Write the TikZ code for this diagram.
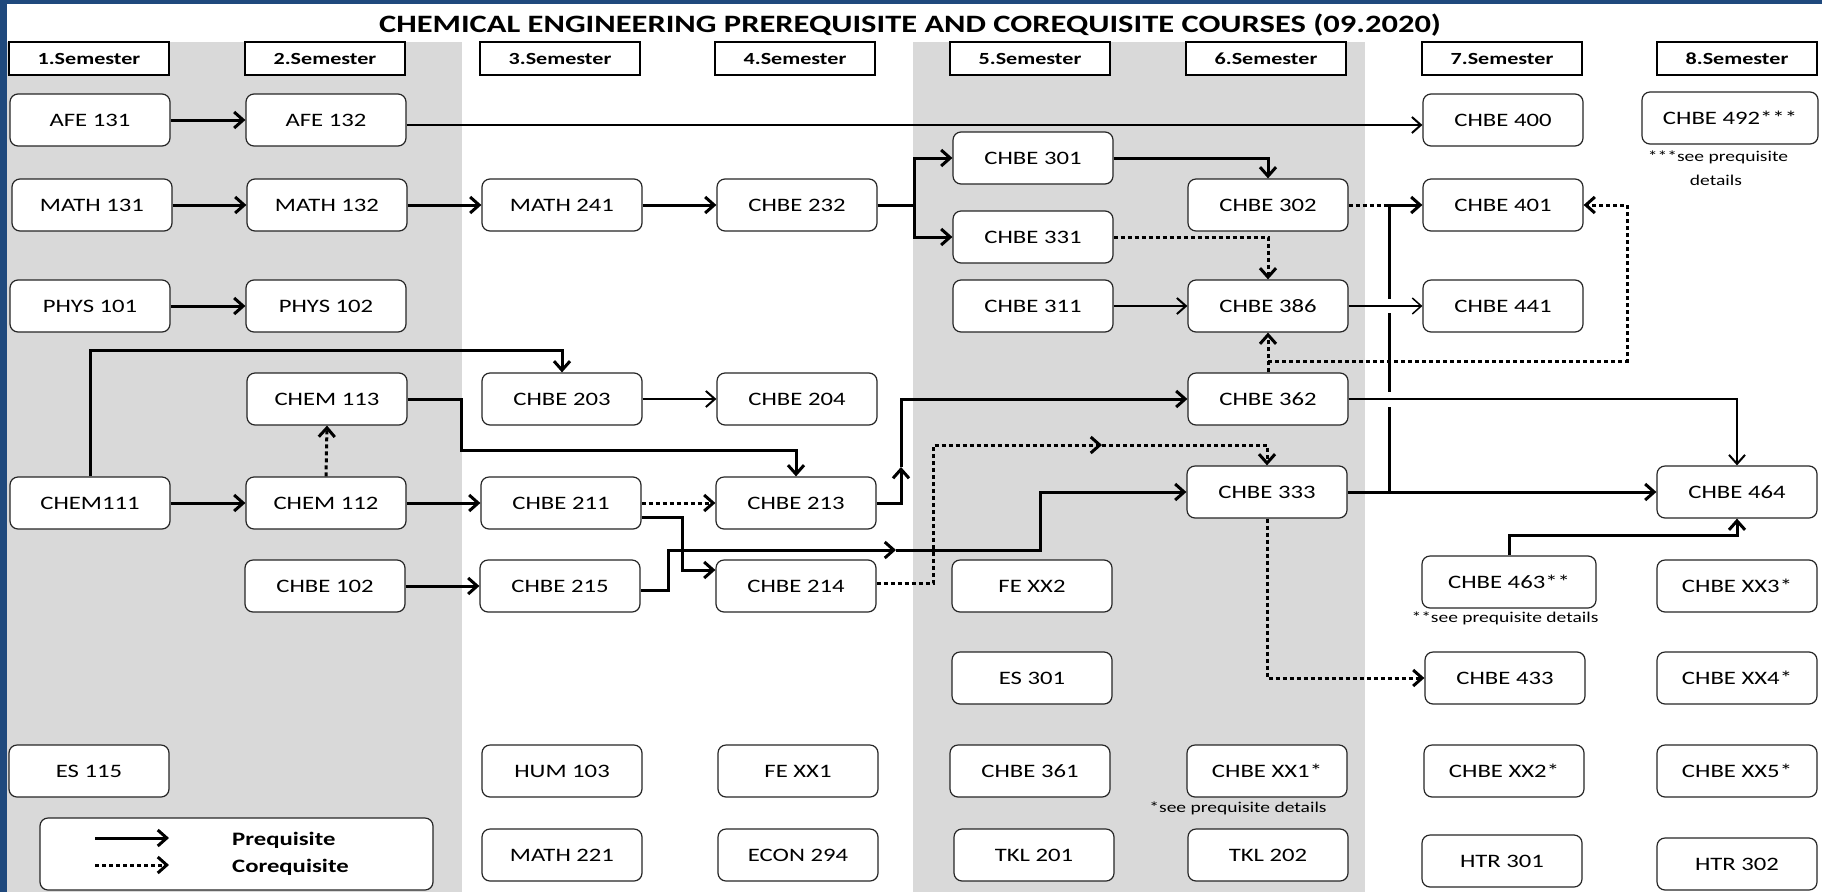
\documentclass[tikz,border=0pt]{standalone}
\usepackage{fontspec}
\setmainfont{Carlito}[FakeStretch=1.3]
\usetikzlibrary{arrows.meta}
\definecolor{frameblue}{HTML}{1F497D}
\definecolor{bandgray}{HTML}{D9D9D9}

\begin{document}
\begin{tikzpicture}[x=1pt, y=-1pt,
    course/.style={draw=black!85, line width=1.2, rounded corners=8, fill=white, minimum width=160, minimum height=52, inner sep=0, font=\fontsize{19}{21}\selectfont},
    semhead/.style={draw, line width=1.4, fill=white, minimum width=160, minimum height=33, inner sep=0, font=\bfseries\fontsize{17}{19}\selectfont},
    pre/.style={line width=3, -{Straight Barb[length=9pt,width=16pt]}},
    thinpre/.style={pre, line width=2},
    coline/.style={line width=3, dash pattern=on 4pt off 3pt},
    co/.style={coline, -{Straight Barb[length=9pt,width=16pt]}},
    note/.style={font=\fontsize{15}{17}\selectfont, inner sep=0}]
\useasboundingbox (0,0) rectangle (1822,892);
\fill[white] (0,0) rectangle (1822,892);
\fill[frameblue] (0,0) rectangle (7,892); % frame left
\fill[frameblue] (0,0) rectangle (1822,4); % frame top
\fill[bandgray] (7,42) rectangle (462,892); % semesters 1-2
\fill[bandgray] (913,42) rectangle (1365,892); % semesters 5-6

\node[font=\bfseries\fontsize{25}{27}\selectfont] (title) at (910,25) {CHEMICAL ENGINEERING PREREQUISITE AND COREQUISITE COURSES (09.2020)};

\node[semhead] (sem1) at (89,58.5) {1.Semester};
\node[semhead] (sem2) at (325,58.5) {2.Semester};
\node[semhead] (sem3) at (560,58.5) {3.Semester};
\node[semhead] (sem4) at (795,58.5) {4.Semester};
\node[semhead] (sem5) at (1030,58.5) {5.Semester};
\node[semhead] (sem6) at (1266,58.5) {6.Semester};
\node[semhead] (sem7) at (1502,58.5) {7.Semester};
\node[semhead] (sem8) at (1737,58.5) {8.Semester};

\node[course] (afe131) at (90,120) {AFE 131};
\node[course] (afe132) at (326,120) {AFE 132};
\node[course] (chbe400) at (1503,120) {CHBE 400};
\node[course, minimum width=176] (chbe492) at (1730,118) {CHBE 492***};
\node[note] (note492a) at (1718,157) {***see prequisite};
\node[note] (note492b) at (1716,180) {details};

\node[course] (math131) at (92,205) {MATH 131};
\node[course] (math132) at (327,205) {MATH 132};
\node[course] (math241) at (562,205) {MATH 241};
\node[course] (chbe232) at (797,205) {CHBE 232};
\node[course] (chbe301) at (1033,158) {CHBE 301};
\node[course] (chbe331) at (1033,237) {CHBE 331};
\node[course] (chbe302) at (1268,205) {CHBE 302};
\node[course] (chbe401) at (1503,205) {CHBE 401};

\node[course] (phys101) at (90,306) {PHYS 101};
\node[course] (phys102) at (326,306) {PHYS 102};
\node[course] (chbe311) at (1033,306) {CHBE 311};
\node[course] (chbe386) at (1268,306) {CHBE 386};
\node[course] (chbe441) at (1503,306) {CHBE 441};

\node[course] (chem113) at (327,399) {CHEM 113};
\node[course] (chbe203) at (562,399) {CHBE 203};
\node[course] (chbe204) at (797,399) {CHBE 204};
\node[course] (chbe362) at (1268,399) {CHBE 362};

\node[course] (chem111) at (90,503) {CHEM111};
\node[course] (chem112) at (326,503) {CHEM 112};
\node[course] (chbe211) at (561,503) {CHBE 211};
\node[course] (chbe213) at (796,503) {CHBE 213};
\node[course] (chbe333) at (1267,492) {CHBE 333};
\node[course] (chbe464) at (1737,492) {CHBE 464};

\node[course] (chbe102) at (325,586) {CHBE 102};
\node[course] (chbe215) at (560,586) {CHBE 215};
\node[course] (chbe214) at (796,586) {CHBE 214};
\node[course] (fexx2) at (1032,586) {FE XX2};
\node[course, minimum width=174] (chbe463) at (1509,582) {CHBE 463**};
\node[note] (note463) at (1505,618) {**see prequisite details};
\node[course] (chbexx3) at (1737,586) {CHBE XX3*};

\node[course] (es301) at (1032,678) {ES 301};
\node[course] (chbe433) at (1505,678) {CHBE 433};
\node[course] (chbexx4) at (1737,678) {CHBE XX4*};

\node[course] (es115) at (89,771) {ES 115};
\node[course] (hum103) at (562,771) {HUM 103};
\node[course] (fexx1) at (798,771) {FE XX1};
\node[course] (chbe361) at (1030,771) {CHBE 361};
\node[course] (chbexx1) at (1267,771) {CHBE XX1*};
\node[note] (notexx1) at (1238,808) {*see prequisite details};
\node[course] (chbexx2) at (1504,771) {CHBE XX2*};
\node[course] (chbexx5) at (1737,771) {CHBE XX5*};

\node[course] (math221) at (562,855) {MATH 221};
\node[course] (econ294) at (798,855) {ECON 294};
\node[course] (tkl201) at (1034,855) {TKL 201};
\node[course] (tkl202) at (1268,855) {TKL 202};
\node[course] (htr301) at (1502,861) {HTR 301};
\node[course] (htr302) at (1737,864) {HTR 302};

% legend
\node[course, minimum width=393, minimum height=72] (legend) at (236.5,854) {};
\coordinate (lgpa) at (95,838);
\coordinate (lgpb) at (169,838);
\coordinate (lgca) at (95,865);
\coordinate (lgcb) at (169,865);
\draw[pre] (lgpa) -- (lgpb);
\draw[co] (lgca) -- (lgcb);
\node[anchor=west, inner sep=0, font=\bfseries\fontsize{19}{21}\selectfont] (lgptext) at (232,840) {Prequisite};
\node[anchor=west, inner sep=0, font=\bfseries\fontsize{19}{21}\selectfont] (lgctext) at (232,867) {Corequisite};

% prerequisites
\draw[pre] (afe131) -- (afe132);
\draw[thinpre] ([yshift=-5]afe132.east) -- ([yshift=-5]chbe400.west);
\draw[pre] (math131) -- (math132);
\draw[pre] (math132) -- (math241);
\draw[pre] (math241) -- (chbe232);
\draw[pre] (chbe232.east) -- ++(37,0) |- (chbe301.west);
\draw[pre] (chbe232.east) -- ++(37,0) |- (chbe331.west);
\draw[pre] (chbe301.east) -| (chbe302.north);
\draw[pre] (phys101) -- (phys102);
\draw[thinpre] (chbe311) -- (chbe386);
\draw[pre] (chem111.north) -- ++(0,-126) -| (chbe203.north);
\draw[pre] (chem111) -- (chem112);
\draw[pre] (chem112) -- (chbe211);
\draw[pre] (chem113.east) -- ++(54,0) -- ++(0,51) -| (chbe213.north);
\draw[thinpre] (chbe203) -- (chbe204);
\draw[pre] ([yshift=-14]chbe211.east) -- ++(41,0) |- ([yshift=16]chbe214.west);
\draw[pre] (chbe102) -- (chbe215);

\coordinate (mid215) at (896,550);
\coordinate (bend215) at (1040,550);
\draw[pre] ([yshift=-4]chbe215.east) -- ++(28,0) |- (mid215);
\draw[pre] (mid215) -- (bend215) |- (chbe333.west);

\coordinate (mid213) at (901,467);
\draw[pre] (chbe213.east) -| (mid213);
\draw[pre] (mid213) |- (chbe362.west);

\draw[thinpre] (chbe362.east) -| (chbe464.north);
\draw[pre] (chbe333) -- (chbe464);
\draw[pre] (chbe463.north) -- ++(0,-20) -| (chbe464.south);

\coordinate (tap333) at (1389,492);
\draw[pre] (tap333) |- (chbe401.west);
\fill[white] (1384,299) rectangle (1394,313);
\fill[white] (1384,392) rectangle (1394,407);
\draw[line width=1.5, -{Straight Barb[length=9pt,width=16pt]}] (chbe386) -- (chbe441);
\draw[thinpre, -] (chbe362.east) -- ++(60,0);

% corequisites
\draw[co] (chem112.north) -- (chem113.south);
\draw[co] (chbe211) -- (chbe213);
\draw[co] (chbe331.east) -| (chbe386.north);
\draw[coline] (chbe302.east) -- (tap333 |- chbe302.east);
\draw[co] (chbe362.north) -- (chbe386.south);
\coordinate (tap362) at (1268,361);
\draw[co] (tap362) -- (1627,361) |- (chbe401.east);
\coordinate (mid214) at (1102,445);
\draw[co] ([yshift=3]chbe214.east) -- ++(57,0) |- (mid214);
\draw[co] (mid214) -| (chbe333.north);
\draw[co] (chbe333.south) |- (chbe433.west);
\end{tikzpicture}
\end{document}
